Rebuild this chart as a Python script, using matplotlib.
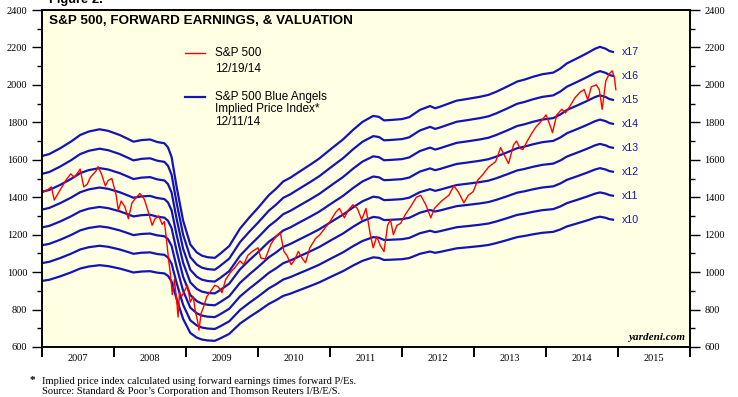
import numpy as np
import matplotlib
matplotlib.use("Agg")
import matplotlib.pyplot as plt
from matplotlib.lines import Line2D
from matplotlib.ticker import MultipleLocator, FixedLocator, NullFormatter

# forward earnings (decimal year, $ per share)
fe_t = [2007.00, 2007.10, 2007.25, 2007.40, 2007.53, 2007.65, 2007.80, 2007.92,
        2008.08, 2008.20, 2008.27, 2008.38, 2008.50, 2008.60, 2008.70, 2008.75,
        2008.80, 2008.87, 2008.96, 2009.06, 2009.15, 2009.22, 2009.30, 2009.40,
        2009.47, 2009.60, 2009.75, 2009.88, 2010.00, 2010.15, 2010.25, 2010.35,
        2010.45, 2010.55, 2010.72, 2010.85, 2011.04, 2011.18, 2011.32, 2011.45,
        2011.60, 2011.68, 2011.75, 2011.83, 2012.00, 2012.10, 2012.25, 2012.39,
        2012.46, 2012.53, 2012.65, 2012.76, 2012.90, 2013.08, 2013.20, 2013.31,
        2013.45, 2013.60, 2013.70, 2013.82, 2013.95, 2014.10, 2014.20, 2014.29,
        2014.45, 2014.57, 2014.68, 2014.75, 2014.83, 2014.88, 2014.93]
fe_v = [95.3, 95.9, 97.7, 99.8, 101.9, 103.0, 103.7, 103.2,
        101.9, 100.6, 99.8, 100.3, 100.5, 99.7, 99.3, 98.0,
        95.0, 85.6, 75.0, 67.5, 65.0, 64.0, 63.5, 63.3,
        64.5, 67.0, 72.5, 76.0, 79.0, 83.0, 85.0, 87.3,
        88.5, 90.0, 92.5, 94.5, 98.0, 100.5, 103.5, 106.0,
        107.9, 107.6, 106.5, 106.6, 106.9, 107.5, 109.8, 111.0,
        110.3, 110.8, 111.8, 112.7, 113.2, 113.9, 114.5, 115.5,
        117.0, 118.7, 119.3, 120.2, 121.0, 121.5, 122.8, 124.4,
        126.2, 127.6, 129.0, 129.6, 129.0, 128.3, 128.0]
multiples = [10, 11, 12, 13, 14, 15, 16, 17]

# S&P 500 index (decimal year, level)
sp_t = [2007.00, 2007.08, 2007.13, 2007.17, 2007.25, 2007.33, 2007.40, 2007.45,
        2007.53, 2007.58, 2007.63, 2007.67, 2007.75, 2007.78, 2007.83, 2007.88,
        2007.92, 2007.97, 2008.03, 2008.06, 2008.10, 2008.15, 2008.20, 2008.25,
        2008.30, 2008.36, 2008.42, 2008.47, 2008.53, 2008.57, 2008.62, 2008.67,
        2008.70, 2008.73, 2008.76, 2008.78, 2008.81, 2008.84, 2008.87, 2008.89,
        2008.91, 2008.94, 2008.98, 2009.02, 2009.06, 2009.10, 2009.13, 2009.16,
        2009.18, 2009.21, 2009.24, 2009.29, 2009.33, 2009.40, 2009.45, 2009.50,
        2009.55, 2009.62, 2009.67, 2009.75, 2009.80, 2009.86, 2009.92, 2010.00,
        2010.04, 2010.10, 2010.18, 2010.25, 2010.31, 2010.36, 2010.40, 2010.46,
        2010.50, 2010.56, 2010.62, 2010.66, 2010.72, 2010.80, 2010.86, 2010.92,
        2011.00, 2011.08, 2011.13, 2011.20, 2011.25, 2011.32, 2011.38, 2011.44,
        2011.50, 2011.56, 2011.60, 2011.65, 2011.70, 2011.75, 2011.80, 2011.84,
        2011.88, 2011.93, 2011.98, 2012.05, 2012.12, 2012.20, 2012.26, 2012.33,
        2012.40, 2012.45, 2012.55, 2012.65, 2012.72, 2012.78, 2012.86, 2012.92,
        2012.99, 2013.05, 2013.12, 2013.20, 2013.30, 2013.37, 2013.44, 2013.48,
        2013.55, 2013.59, 2013.64, 2013.68, 2013.74, 2013.80, 2013.86, 2013.92,
        2014.00, 2014.06, 2014.09, 2014.15, 2014.22, 2014.27, 2014.33, 2014.40,
        2014.47, 2014.53, 2014.58, 2014.63, 2014.70, 2014.74, 2014.78, 2014.83,
        2014.88, 2014.92, 2014.95, 2014.97]
sp_v = [1424, 1440, 1455, 1385, 1437, 1490, 1525, 1505,
        1550, 1455, 1470, 1505, 1540, 1563, 1520, 1460,
        1490, 1500, 1411, 1330, 1380, 1350, 1285, 1370,
        1395, 1420, 1390, 1330, 1250, 1285, 1300, 1255,
        1270, 1170, 1060, 1000, 880, 960, 850, 760,
        890, 870, 900, 930, 840, 870, 790, 740,
        690, 780, 810, 870, 890, 930, 920, 890,
        960, 1000, 1020, 1060, 1040, 1090, 1110, 1130,
        1075, 1070, 1150, 1190, 1210, 1110, 1090, 1040,
        1060, 1110, 1070, 1050, 1130, 1180, 1200, 1230,
        1270, 1320, 1340, 1290, 1330, 1360, 1340, 1280,
        1340, 1200, 1130, 1190, 1140, 1110, 1250, 1280,
        1200, 1250, 1260, 1310, 1350, 1400, 1410, 1360,
        1290, 1340, 1380, 1410, 1460, 1430, 1370, 1410,
        1430, 1490, 1520, 1560, 1590, 1665, 1610, 1580,
        1680, 1700, 1660, 1655, 1700, 1740, 1775, 1800,
        1840, 1780, 1745, 1840, 1870, 1850, 1885, 1930,
        1960, 1975, 1920, 1990, 2000, 1975, 1870, 2020,
        2060, 2075, 2040, 1975]

year_labels = ["2007", "2008", "2009", "2010", "2011", "2012", "2013", "2014", "2015"]

blue = "#1414b4"
red = "#ff0000"
sans = ["Liberation Sans", "DejaVu Sans"]
serif = ["Liberation Serif", "DejaVu Serif"]

fig = plt.figure(figsize=(7.38, 3.97), dpi=100)
ax = fig.add_axes([42 / 738, 1 - 347 / 397, 648 / 738, 337 / 397])
ax.set_facecolor("#ffffe4")

fe = np.array(fe_v)
for m in multiples:
    ax.plot(fe_t, fe * m, color=blue, lw=1.6, solid_joinstyle="round")
    ax.text(2015.05, fe[-1] * m, "x%d" % m, color=blue, fontsize=7.7,
            family=sans, va="center", ha="left")

ax.plot(sp_t, sp_v, color=red, lw=1.0)

ax.set_xlim(2007, 2016)
ax.set_ylim(600, 2400)

ax.xaxis.set_major_locator(MultipleLocator(1))
ax.xaxis.set_major_formatter(NullFormatter())
ax.xaxis.set_minor_locator(FixedLocator([2007.5 + i for i in range(9)]))
ax.set_xticklabels(year_labels, minor=True)
ax.tick_params(axis="x", which="major", direction="out", length=7, width=1.4)
ax.tick_params(axis="x", which="minor", length=0, pad=5)

ax.yaxis.set_major_locator(MultipleLocator(200))
ax.yaxis.set_minor_locator(MultipleLocator(100))
ax.tick_params(axis="y", which="both", direction="out", left=True, right=True,
               labelleft=True, labelright=True, width=1.0)
ax.tick_params(axis="y", which="major", length=7)
ax.tick_params(axis="y", which="minor", length=3.5)

for lab in ax.get_xticklabels(minor=True) + ax.get_yticklabels():
    lab.set_family(serif)
    lab.set_fontsize(7.5)

for s in ax.spines.values():
    s.set_linewidth(1.4)

ax.text(0.011, 0.967, "S&P 500, FORWARD EARNINGS, & VALUATION", transform=ax.transAxes,
        fontsize=9.7, fontweight="bold", family=sans, va="center", ha="left")
ax.text(0.992, 0.028, "yardeni.com", transform=ax.transAxes, fontsize=8,
        fontweight="bold", style="italic", family=serif, ha="right", va="center")

# legend keys
fig.add_artist(Line2D([185 / 738, 205 / 738], [1 - 53 / 397] * 2, color=red, lw=1.0))
fig.add_artist(Line2D([185 / 738, 205 / 738], [1 - 97 / 397] * 2, color=blue, lw=1.6))
fig.text(215 / 738, 1 - 53 / 397, "S&P 500", fontsize=8.5, family=sans, va="center")
fig.text(215 / 738, 1 - 69 / 397, "12/19/14", fontsize=8.5, family=sans, va="center")
fig.text(215 / 738, 1 - 97 / 397, "S&P 500 Blue Angels", fontsize=8.5, family=sans, va="center")
fig.text(215 / 738, 1 - 109 / 397, "Implied Price Index*", fontsize=8.5, family=sans, va="center")
fig.text(215 / 738, 1 - 122 / 397, "12/11/14", fontsize=8.5, family=sans, va="center")

# figure caption, partly cut off at the top edge as in the source
fig.text(49 / 738, 1 - 3 / 397, "Figure 2.", fontsize=9.3, fontweight="bold",
         family=sans, va="baseline")

fig.text(30 / 738, 1 - 381 / 397, "*", fontsize=8, fontweight="bold", family=serif, va="center")
fig.text(42 / 738, 1 - 381 / 397,
         "Implied price index calculated using forward earnings times forward P/Es.",
         fontsize=7.6, family=serif, va="center")
fig.text(42 / 738, 1 - 392 / 397,
         "Source: Standard & Poor\u2019s Corporation and Thomson Reuters I/B/E/S.",
         fontsize=7.6, family=serif, va="center")

fig.savefig("out.png", dpi=100)
